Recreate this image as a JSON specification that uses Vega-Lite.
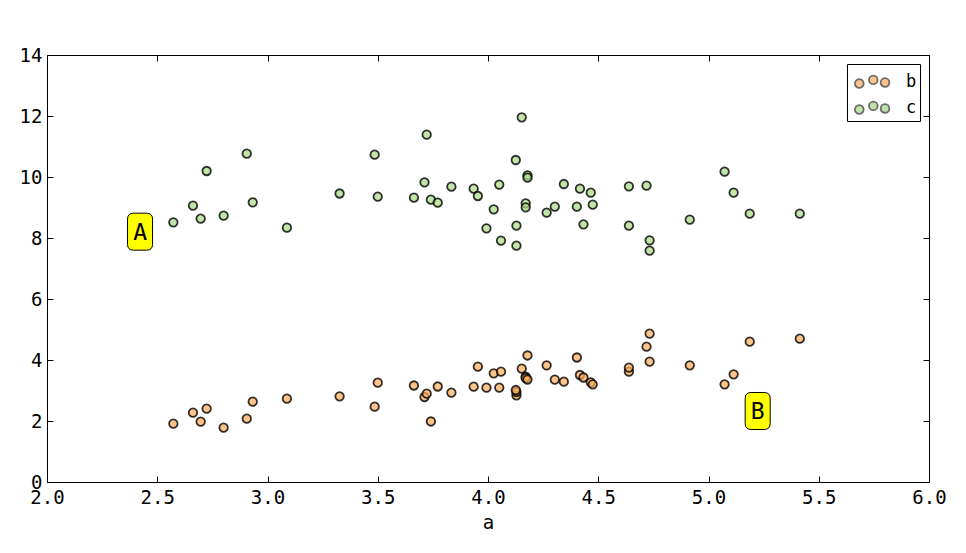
{
  "$schema": "https://vega.github.io/schema/vega-lite/v6.json",
  "width": 882,
  "height": 427,
  "autosize": "none",
  "padding": {"left": 47, "top": 55, "right": 37, "bottom": 71},
  "background": "white",
  "config": {
    "view": {"stroke": "black", "strokeWidth": 1},
    "axis": {
      "grid": false,
      "domain": false,
      "ticks": true,
      "tickColor": "black",
      "tickSize": -6,
      "tickWidth": 1,
      "labelFont": "DejaVu Sans Mono",
      "labelFontSize": 19,
      "labelColor": "black",
      "titleFont": "DejaVu Sans Mono",
      "titleFontSize": 19,
      "titleFontWeight": "normal",
      "titleColor": "black"
    },
    "legend": {
      "orient": "none",
      "legendX": 800,
      "legendY": 9,
      "title": null,
      "strokeColor": "black",
      "strokeWidth": 1,
      "fillColor": "white",
      "padding": 3,
      "labelFont": "DejaVu Sans Mono",
      "labelFontSize": 17,
      "labelColor": "black",
      "labelOffset": 27,
      "rowPadding": 1,
      "symbolType": "M -0.705 0.15 A 0.32 0.32 0 1 0 -0.065 0.15 A 0.32 0.32 0 1 0 -0.705 0.15 Z M 0.332 -0.12 A 0.32 0.32 0 1 0 0.972 -0.12 A 0.32 0.32 0 1 0 0.332 -0.12 Z M 1.199 0.07 A 0.32 0.32 0 1 0 1.839 0.07 A 0.32 0.32 0 1 0 1.199 0.07 Z",
      "symbolSize": 729,
      "symbolStrokeColor": "#333333",
      "symbolStrokeWidth": 1.8,
      "symbolOpacity": 0.72
    }
  },
  "layer": [
    {
      "data": {
        "values": [
          {"a": 2.573, "b": 1.911, "c": 8.515},
          {"a": 2.662, "b": 2.272, "c": 9.059},
          {"a": 2.697, "b": 1.977, "c": 8.633},
          {"a": 2.724, "b": 2.403, "c": 10.197},
          {"a": 2.801, "b": 1.780, "c": 8.731},
          {"a": 2.906, "b": 2.075, "c": 10.764},
          {"a": 2.933, "b": 2.633, "c": 9.170},
          {"a": 3.088, "b": 2.731, "c": 8.338},
          {"a": 3.327, "b": 2.810, "c": 9.459},
          {"a": 3.486, "b": 2.469, "c": 10.731},
          {"a": 3.500, "b": 3.256, "c": 9.354},
          {"a": 3.664, "b": 3.164, "c": 9.321},
          {"a": 3.712, "b": 2.787, "c": 9.826},
          {"a": 3.722, "b": 2.895, "c": 11.387},
          {"a": 3.741, "b": 1.984, "c": 9.256},
          {"a": 3.772, "b": 3.131, "c": 9.157},
          {"a": 3.834, "b": 2.928, "c": 9.682},
          {"a": 3.935, "b": 3.125, "c": 9.616},
          {"a": 3.954, "b": 3.780, "c": 9.377},
          {"a": 3.993, "b": 3.092, "c": 8.318},
          {"a": 4.026, "b": 3.564, "c": 8.941},
          {"a": 4.051, "b": 3.092, "c": 9.748},
          {"a": 4.059, "b": 3.616, "c": 7.911},
          {"a": 4.129, "b": 2.843, "c": 7.748},
          {"a": 4.129, "b": 2.951, "c": 8.403},
          {"a": 4.126, "b": 3.016, "c": 10.557},
          {"a": 4.153, "b": 3.715, "c": 11.957},
          {"a": 4.171, "b": 3.452, "c": 9.138},
          {"a": 4.171, "b": 3.410, "c": 9.007},
          {"a": 4.179, "b": 4.148, "c": 10.056},
          {"a": 4.179, "b": 3.361, "c": 9.977},
          {"a": 4.266, "b": 3.826, "c": 8.830},
          {"a": 4.303, "b": 3.354, "c": 9.026},
          {"a": 4.344, "b": 3.289, "c": 9.770},
          {"a": 4.403, "b": 4.082, "c": 9.026},
          {"a": 4.417, "b": 3.508, "c": 9.616},
          {"a": 4.433, "b": 3.426, "c": 8.449},
          {"a": 4.466, "b": 3.269, "c": 9.485},
          {"a": 4.475, "b": 3.203, "c": 9.092},
          {"a": 4.639, "b": 3.616, "c": 9.695},
          {"a": 4.639, "b": 3.748, "c": 8.403},
          {"a": 4.719, "b": 4.436, "c": 9.715},
          {"a": 4.733, "b": 4.862, "c": 7.925},
          {"a": 4.733, "b": 3.944, "c": 7.584},
          {"a": 4.915, "b": 3.826, "c": 8.600},
          {"a": 5.073, "b": 3.203, "c": 10.174},
          {"a": 5.114, "b": 3.531, "c": 9.485},
          {"a": 5.187, "b": 4.600, "c": 8.797},
          {"a": 5.414, "b": 4.698, "c": 8.797}
        ]
      },
      "transform": [{"fold": ["b", "c"], "as": ["series", "value"]}],
      "mark": {
        "type": "point",
        "filled": true,
        "size": 72,
        "shape": "circle",
        "fillOpacity": 0.72,
        "stroke": "#000000",
        "strokeOpacity": 0.8,
        "strokeWidth": 1.8
      },
      "encoding": {
        "x": {
          "field": "a",
          "type": "quantitative",
          "scale": {"domain": [2, 6], "nice": false, "zero": false},
          "axis": {"orient": "bottom", "values": [2, 2.5, 3, 3.5, 4, 4.5, 5, 5.5, 6], "format": ".1f", "labelPadding": 12, "title": "a", "titlePadding": 6, "labelFlush": false}
        },
        "y": {
          "field": "value",
          "type": "quantitative",
          "scale": {"domain": [0, 14], "nice": false, "zero": false},
          "axis": {"orient": "left", "values": [0, 2, 4, 6, 8, 10, 12, 14], "format": "d", "labelPadding": 11, "title": null, "labelFlush": false}
        },
        "color": {
          "field": "series",
          "type": "nominal",
          "scale": {"domain": ["b", "c"], "range": ["#ffad5c", "#aadb88"]},
          "legend": {}
        }
      }
    },
    {
      "data": {"values": [{"label": "A", "x": 2.422, "y": 8.207}, {"label": "B", "x": 5.223, "y": 2.328}]},
      "mark": {
        "type": "point",
        "filled": true,
        "shape": "M -0.676 -0.68 Q -0.676 -1 -0.356 -1 L 0.356 -1 Q 0.676 -1 0.676 -0.68 L 0.676 0.68 Q 0.676 1 0.356 1 L -0.356 1 Q -0.676 1 -0.676 0.68 Z",
        "size": 1369,
        "fill": "#ffff00",
        "fillOpacity": 1,
        "opacity": 1,
        "stroke": "black",
        "strokeWidth": 1
      },
      "encoding": {
        "x": {
          "field": "x",
          "type": "quantitative",
          "scale": {"domain": [2, 6], "nice": false, "zero": false},
          "axis": {"orient": "top", "values": [2, 2.5, 3, 3.5, 4, 4.5, 5, 5.5, 6], "labels": false, "title": null}
        },
        "y": {
          "field": "y",
          "type": "quantitative",
          "scale": {"domain": [0, 14], "nice": false, "zero": false},
          "axis": {"orient": "right", "values": [0, 2, 4, 6, 8, 10, 12, 14], "labels": false, "title": null}
        }
      }
    },
    {
      "data": {"values": [{"label": "A", "x": 2.422, "y": 8.207}, {"label": "B", "x": 5.223, "y": 2.328}]},
      "mark": {
        "type": "text",
        "font": "DejaVu Sans Mono",
        "fontSize": 23,
        "color": "black",
        "align": "center",
        "baseline": "middle",
        "dy": 1
      },
      "encoding": {
        "x": {"field": "x", "type": "quantitative", "axis": null},
        "y": {"field": "y", "type": "quantitative", "axis": null},
        "text": {"field": "label", "type": "nominal"}
      }
    }
  ],
  "resolve": {"axis": {"x": "independent", "y": "independent"}}
}
